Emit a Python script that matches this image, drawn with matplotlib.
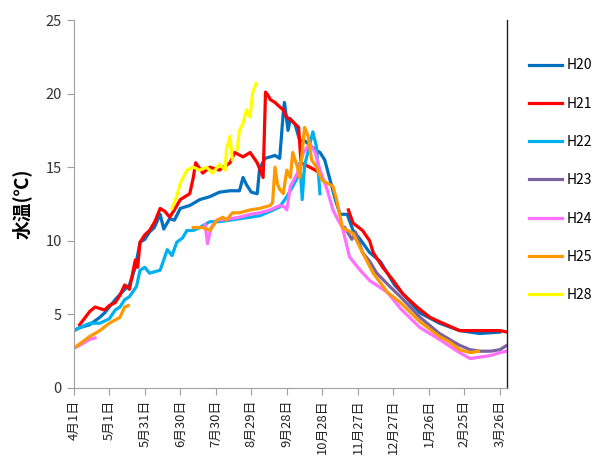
import numpy as np
import matplotlib.pyplot as plt

plt.rcParams['font.family'] = ['Noto Sans CJK JP', 'DejaVu Sans']

nan = np.nan

# 4月1日からの経過日数と水温(℃)
h20_d = [0, 5, 13.5, 22, 26, 35, 43, 47, 52, 56, 60, 64, 68, 73, 76, 81, 85, 90, 98, 106.5, 115, 123, 132,
         140, 143, 146, 150, 155, 157, 161.5, 166, 170, 174, 177, 178, 181, 183, 187, 191, 195, 199.5, 204,
         208, 212, 216, 221, 225, 231, 236, 242, 250, 259, 265, 271, 278, 292.5, 309, 326, 343, 360]
h20_v = [3.9, 4.1, 4.3, 4.8, 5.1, 6.0, 6.7, 7.0, 8.2, 9.9, 10.1, 10.6, 10.9, 11.8, 10.8, 11.5, 11.4, 12.2,
         12.4, 12.8, 13.0, 13.3, 13.4, 13.4, 14.3, 13.8, 13.3, 13.2, 14.9, 15.6, 15.7, 15.8, 15.6, 18.7,
         19.4, 17.5, 18.3, 17.9, 16.8, 16.8, 16.5, 16.2, 16.0, 15.5, 14.3, 12.8, 11.8, 11.8, 10.7, 10.1,
         9.2, 8.6, 7.8, 7.0, 6.4, 5.1, 4.4, 3.9, 3.7, 3.8]

h21_d = [5, 13.5, 18, 22, 26, 30, 35, 39, 43, 46, 47, 52, 54, 56, 60, 64, 68.5, 73, 77, 81, 85, 90, 98,
         101, 103, 109, 115, 123, 132, 136, 143, 149, 155, 160, 162, 164, 166, 170, 174, 177, 180, 185,
         190, 192, 199.5, 204, 206, 220, 232, 236, 244, 250, 253, 261, 270, 278, 290, 301, 309, 326, 343,
         360, 366]
h21_v = [4.3, 5.2, 5.5, 5.4, 5.3, 5.6, 5.8, 6.3, 7.0, 6.8, 6.7, 8.7, 8.2, 9.9, 10.4, 10.7, 11.3, 12.2,
         12.0, 11.6, 12.1, 12.8, 13.2, 14.3, 15.3, 14.6, 15.0, 14.8, 15.3, 16.0, 15.7, 16.0, 15.3, 14.3,
         20.1, 19.9, 19.6, 19.4, 19.1, 18.9, 18.4, 18.1, 17.7, 15.3, 15.0, 14.8, 14.7, nan, 12.1, 11.2,
         10.7, 10.0, 9.2, 8.2, 7.3, 6.4, 5.5, 4.8, 4.5, 3.9, 3.9, 3.9, 3.8]

h22_d = [0, 5, 13.5, 22, 30, 35, 39, 43, 47, 53, 56, 60, 64, 73, 79, 83, 87, 92, 95.5, 101, 106.5, 115,
         123, 132, 140, 149, 157, 166, 174, 180, 185, 189, 191, 193, 195, 199.5, 202, 205, 208]
h22_v = [3.9, 4.1, 4.4, 4.4, 4.7, 5.3, 5.5, 6.0, 6.2, 6.9, 8.0, 8.2, 7.8, 8.0, 9.4, 9.0, 9.9, 10.2, 10.7,
         10.7, 10.9, 11.3, 11.3, 11.4, 11.5, 11.6, 11.7, 12.0, 12.3, 13.0, 13.7, 14.3, 15.3, 12.8, 15.1,
         16.6, 17.4, 16.4, 13.2]

h23_d = [229, 235, 238, 244, 250, 256, 267, 276, 292.5, 309, 326, 335, 343, 352, 360, 366]
h23_v = [10.9, 10.1, 10.6, 9.2, 8.6, 7.8, 6.9, 6.2, 4.8, 3.7, 2.9, 2.6, 2.5, 2.5, 2.6, 2.9]

h24_d = [0, 5, 13.5, 18, 60, 111, 113, 116, 121, 132, 140, 149, 157, 166, 174, 178, 180, 183, 189, 194,
         199.5, 204, 208, 214, 219, 222, 227, 233, 242, 250, 265, 276, 292.5, 309, 326, 335, 343, 352,
         360, 366]
h24_v = [2.7, 2.9, 3.3, 3.4, nan, 11.1, 9.8, 10.9, 11.4, 11.5, 11.6, 11.8, 11.9, 12.1, 12.4, 12.3, 12.1,
         13.7, 14.6, 16.0, 16.6, 16.0, 14.8, 13.5, 12.1, 11.6, 10.9, 8.9, 8.0, 7.3, 6.5, 5.4, 4.1, 3.3,
         2.4, 2.0, 2.1, 2.2, 2.4, 2.5]

h25_d = [0, 13.5, 22, 30, 39, 43, 46, 70, 101, 109, 115, 121, 126, 129, 134, 140, 149, 157, 166, 168,
         170, 172, 174, 177, 180, 183, 185, 189, 191, 195, 198, 201, 205, 210, 219, 222, 227, 236, 244,
         253, 265, 276, 292.5, 309, 318, 326, 335, 342]
h25_v = [2.7, 3.5, 3.9, 4.4, 4.8, 5.5, 5.6, nan, 10.9, 10.9, 10.7, 11.4, 11.6, 11.4, 11.9, 11.9, 12.1,
         12.2, 12.4, 12.6, 15.0, 13.9, 13.5, 13.2, 14.8, 14.3, 16.0, 15.0, 14.3, 17.7, 17.1, 15.5, 15.0,
         14.1, 13.7, 12.8, 10.9, 10.5, 9.2, 7.8, 6.5, 5.8, 4.5, 3.5, 3.1, 2.6, 2.4, 2.5]

h28_d = [83, 87, 90, 95.5, 101, 106.5, 112, 117.5, 123, 128, 129, 132, 134, 136, 138, 140, 143, 146, 149,
         151, 154]
h28_v = [12.2, 13.0, 13.9, 14.8, 15.0, 14.8, 15.0, 14.6, 15.2, 14.8, 16.2, 17.1, 15.5, nan, 16.2, 17.5,
         18.0, 18.9, 18.4, 20.0, 20.7]

tick_days = [0, 30, 60, 90, 120, 150, 180, 210, 240, 270, 300, 330, 360]
tick_labels = ['4月1日', '5月1日', '5月31日', '6月30日', '7月30日', '8月29日', '9月28日',
               '10月28日', '11月27日', '12月27日', '1月26日', '2月25日', '3月26日']

fig = plt.figure(figsize=(5.95, 4.59), dpi=100)
ax = fig.add_axes([0.124, 0.1547, 0.728, 0.8017])

lw = 2.3
ax.plot(h20_d, h20_v, color='#0070C0', lw=lw, label='H20')
ax.plot(h21_d, h21_v, color='#FF0000', lw=lw, label='H21')
ax.plot(h22_d, h22_v, color='#00B0F0', lw=lw, label='H22')
ax.plot(h23_d, h23_v, color='#7B62A0', lw=lw, label='H23')
ax.plot(h24_d, h24_v, color='#FF70FF', lw=lw, label='H24')
ax.plot(h25_d, h25_v, color='#FF9900', lw=lw, label='H25')
ax.plot(h28_d, h28_v, color='#FFFF00', lw=lw, label='H28')

ax.set_xlim(0, 366)
ax.set_ylim(0, 25)
ax.set_yticks([0, 5, 10, 15, 20, 25])
ax.set_xticks(tick_days)
ax.set_xticklabels(tick_labels, rotation=90, fontsize=9.3)
ax.tick_params(axis='y', labelsize=10.5, color='#A0A0A0', length=5, labelcolor='#333333')
ax.tick_params(axis='x', color='#A0A0A0', length=5, labelcolor='#222222')
ax.spines['top'].set_visible(False)
ax.spines['left'].set_color('#A0A0A0')
ax.spines['bottom'].set_color('#A0A0A0')
ax.spines['right'].set_color('#222222')
ax.spines['right'].set_linewidth(1.0)

ax.set_ylabel('水温(℃)', fontsize=13.5, fontweight='bold', labelpad=10)

fig.legend(loc='upper left', bbox_to_anchor=(0.868, 0.9), frameon=False, fontsize=10,
           handlelength=2.4, labelspacing=1.75, handletextpad=0.3)

plt.savefig('out.png')
